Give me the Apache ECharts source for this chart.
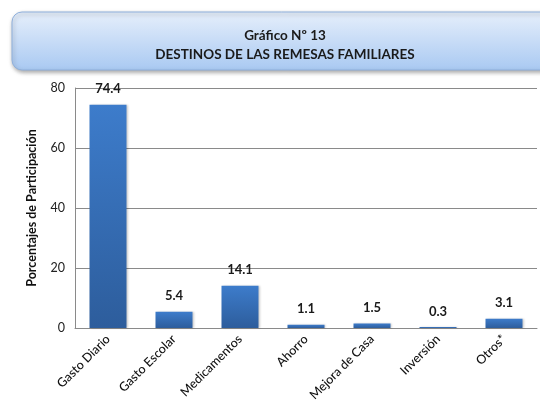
<!DOCTYPE html>
<html>
<head>
<meta charset="utf-8">
<script src="https://cdn.jsdelivr.net/npm/echarts@6/dist/echarts.min.js"></script>
<style>
  html, body { margin: 0; padding: 0; background: #fff; }
  #chart { width: 540px; height: 412px; }
</style>
</head>
<body>
<div id="chart"></div>
<script>
const categories = ['Gasto Diario', 'Gasto Escolar', 'Medicamentos', 'Ahorro', 'Mejora de Casa', 'Inversión', 'Otros*'];
const values = [74.4, 5.4, 14.1, 1.1, 1.5, 0.3, 3.1];
const yTicks = { min: 0, max: 80, interval: 20 };

const chart = echarts.init(document.getElementById('chart'));
const font = 'Lato, "Open Sans", sans-serif';

chart.setOption({
  animation: false,
  textStyle: { fontFamily: font },
  graphic: [{
    type: 'rect',
    shape: { x: 12, y: 12, width: 560, height: 58, r: 10 },
    style: {
      fill: new echarts.graphic.LinearGradient(0, 0, 0, 1, [
        { offset: 0, color: '#e6effb' },
        { offset: 1, color: '#a9c9f2' }
      ]),
      stroke: '#8fb0dc',
      lineWidth: 1,
      shadowBlur: 4,
      shadowOffsetX: 1,
      shadowOffsetY: 2,
      shadowColor: 'rgba(0,0,0,0.35)'
    },
    z: 0
  }],
  title: {
    text: 'Gráfico Nº 13\nDESTINOS DE LAS REMESAS FAMILIARES',
    left: 280,
    top: 21,
    textAlign: 'center',
    textStyle: { fontSize: 13.5, fontWeight: 'bold', color: '#1a1a1a', lineHeight: 19, fontFamily: font }
  },
  grid: { left: 75, right: 3, top: 88, bottom: 84 },
  xAxis: {
    type: 'category',
    data: categories,
    axisLine: { lineStyle: { color: '#8a8a8a' } },
    axisTick: { show: false },
    axisLabel: { rotate: 45, margin: 9, fontSize: 12.5, fontWeight: 500, color: '#111', fontFamily: font, interval: 0 }
  },
  yAxis: {
    type: 'value',
    min: yTicks.min,
    max: yTicks.max,
    interval: yTicks.interval,
    name: 'Porcentajes de Participación',
    nameLocation: 'middle',
    nameGap: 37,
    nameRotate: 90,
    nameTextStyle: { fontSize: 12.5, fontWeight: 'bold', color: '#111', fontFamily: font },
    axisLine: { show: true, lineStyle: { color: '#8a8a8a' } },
    axisTick: { show: false },
    axisLabel: { fontSize: 12.5, color: '#222', margin: 10, fontFamily: font },
    splitLine: { lineStyle: { color: '#8a8a8a' } }
  },
  series: [{
    type: 'bar',
    data: values,
    barWidth: 37,
    itemStyle: {
      color: new echarts.graphic.LinearGradient(0, 0, 0, 1, [
        { offset: 0, color: '#3d7ccb' },
        { offset: 1, color: '#2d5d9c' }
      ]),
      shadowBlur: 2,
      shadowColor: 'rgba(0,0,0,0.2)',
      shadowOffsetX: 1
    },
    label: {
      show: true,
      position: 'top',
      distance: 9,
      fontSize: 13,
      fontWeight: 'bold',
      color: '#1a1a1a',
      fontFamily: font
    }
  }]
});
</script>
</body>
</html>
